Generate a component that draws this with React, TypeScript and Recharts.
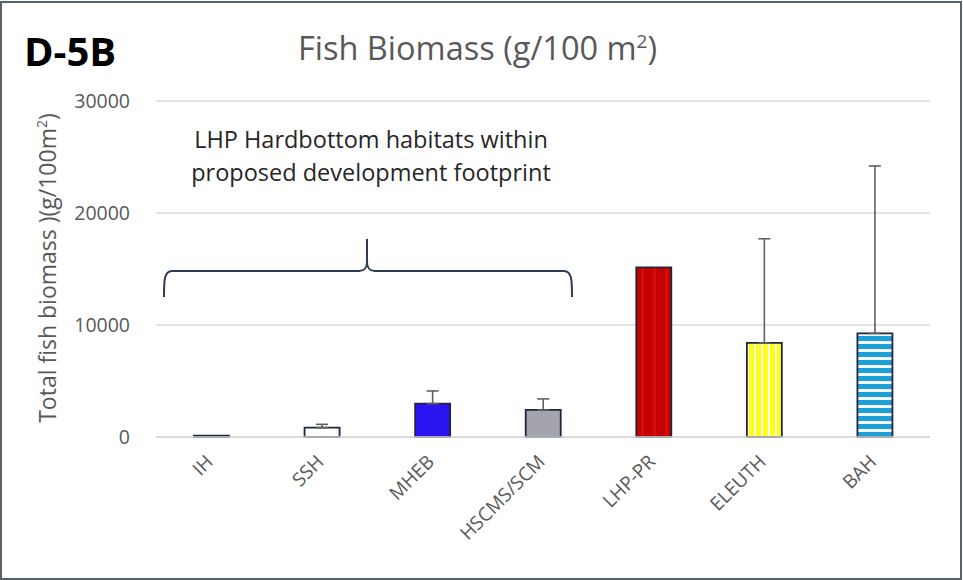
import React from "react";
import { BarChart, Bar, XAxis, YAxis, CartesianGrid, ErrorBar, Cell } from "recharts";

// Habitat categories along the x axis
const habitats = ["IH", "SSH", "MHEB", "HSCMS/SCM", "LHP-PR", "ELEUTH", "BAH"];
// Mean total fish biomass (g/100 m²)
const biomass = [120, 830, 2980, 2420, 15150, 8400, 9250];
// Upper error (plus direction only); null = no error bar
const errorPlus: (number | null)[] = [null, 300, 1130, 980, null, 9300, 14950];
// Y axis ticks
const yTicks = [0, 10000, 20000, 30000];
// Bar fills per habitat
const fills = [
  "#ffffff",
  "#ffffff",
  "#2a14f2",
  "#a4a4ac",
  "url(#redStripe)",
  "url(#yellowStripe)",
  "url(#blueStripe)",
];

const data = habitats.map((h, i) => ({
  habitat: h,
  value: biomass[i],
  err: errorPlus[i] == null ? null : [0, errorPlus[i]],
}));

const FONT = "'Open Sans', Lato, sans-serif";
const GRAY = "#595959";

const XTick = (props: any) => {
  const { x, y, payload } = props;
  const ax = x + 3;
  const ay = y + 18;
  return (
    <text
      x={ax}
      y={ay}
      transform={`rotate(-45, ${ax}, ${ay})`}
      textAnchor="end"
      fill={GRAY}
      fontSize={19}
      fontFamily={FONT}
    >
      {payload.value}
    </text>
  );
};

export default function App() {
  return (
    <div
      style={{
        position: "absolute",
        left: 0,
        top: 0,
        width: 963,
        height: 580,
        background: "#ffffff",
        fontFamily: FONT,
      }}
    >
      {/* fill patterns shared by the bars */}
      <svg width={0} height={0} style={{ position: "absolute" }}>
        <defs>
          <pattern id="redStripe" patternUnits="userSpaceOnUse" width={12} height={12}>
            <rect width={12} height={12} fill="#c40000" />
            <rect x={5} width={3} height={12} fill="#d80a0a" />
          </pattern>
          <pattern id="yellowStripe" patternUnits="userSpaceOnUse" width={7} height={7}>
            <rect width={7} height={7} fill="#ffff1a" />
            <rect x={5} width={2} height={7} fill="#fffbe0" />
          </pattern>
          <pattern id="blueStripe" patternUnits="userSpaceOnUse" width={8} height={8}>
            <rect width={8} height={8} fill="#1e9fd6" />
            <rect y={5} width={8} height={3} fill="#f2fbff" />
          </pattern>
        </defs>
      </svg>

      <BarChart
        width={963}
        height={580}
        data={data}
        margin={{ top: 101, right: 33, bottom: 0, left: 76 }}
      >
        <CartesianGrid vertical={false} stroke="#d9d9d9" strokeWidth={1.3} />
        <XAxis
          dataKey="habitat"
          height={143}
          axisLine={{ stroke: "#d9d9d9", strokeWidth: 1.3 }}
          tickLine={false}
          interval={0}
          tick={<XTick />}
        />
        <YAxis
          width={80}
          domain={[0, 30000]}
          ticks={yTicks}
          axisLine={false}
          tickLine={false}
          tickSize={0}
          tickMargin={26}
          tick={{ fill: GRAY, fontSize: 19.5, fontFamily: FONT }}
        />
        <Bar
          dataKey="value"
          barSize={35}
          stroke="#1e2640"
          strokeWidth={1.8}
          isAnimationActive={false}
        >
          {data.map((d, i) => (
            <Cell key={d.habitat} fill={fills[i]} />
          ))}
          <ErrorBar
            dataKey="err"
            direction="y"
            width={6}
            stroke="#606060"
            strokeWidth={1.6}
          />
        </Bar>
      </BarChart>

      {/* titles, axis label and annotation */}
      <svg
        width={963}
        height={580}
        style={{ position: "absolute", left: 0, top: 0, pointerEvents: "none" }}
      >
        <rect x={1} y={2} width={960} height={577} fill="none" stroke="#55636c" strokeWidth={2} />
        <text x={24} y={66} fontSize={40} fontWeight="bold" fill="#000" fontFamily={FONT}>
          D-5B
        </text>
        <text x={298} y={60} fontSize={32.5} fill={GRAY} fontFamily={FONT}>
          Fish Biomass (g/100 m
          <tspan fontSize={19} dy={-12}>2</tspan>
          <tspan dy={12}>)</tspan>
        </text>
        <text
          x={56}
          y={268}
          transform="rotate(-90, 56, 268)"
          textAnchor="middle"
          fontSize={23}
          fill={GRAY}
          fontFamily={FONT}
        >
          Total fish biomass )(g/100m
          <tspan fontSize={14} dy={-9}>2</tspan>
          <tspan dy={9}>)</tspan>
        </text>
        <text x={371} y={148} textAnchor="middle" fontSize={23.5} fill="#262626" fontFamily={FONT}>
          LHP Hardbottom habitats within
        </text>
        <text x={371} y={181} textAnchor="middle" fontSize={23.5} fill="#262626" fontFamily={FONT}>
          proposed development footprint
        </text>
        <path
          d="M164,297 C164,281 164,271 172,271 L359,271 C365,271 367,268 367,261 L367,239 M367,261 C367,268 369,271 375,271 L564,271 C572,271 572,281 572,297"
          fill="none"
          stroke="#2f3b52"
          strokeWidth={2}
        />
      </svg>
    </div>
  );
}
